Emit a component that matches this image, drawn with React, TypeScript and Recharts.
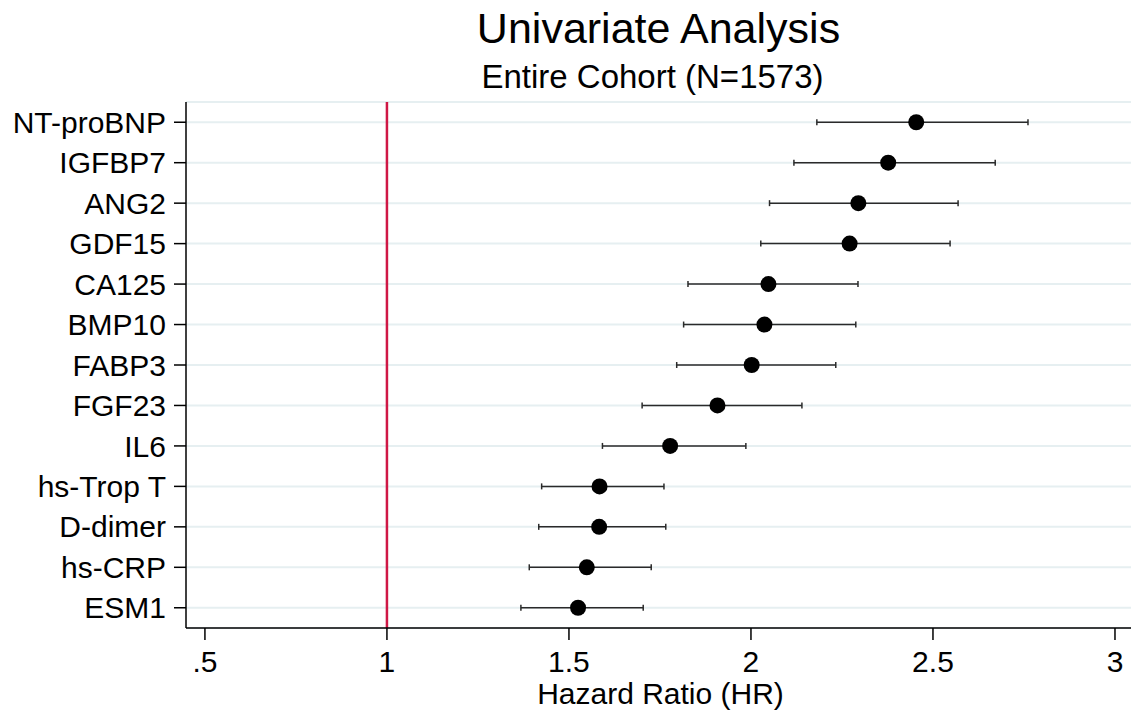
import React from 'react';
import {
  ScatterChart,
  Scatter,
  XAxis,
  YAxis,
  CartesianGrid,
  ReferenceLine,
  ErrorBar,
} from 'recharts';

/* Univariate hazard ratios with 95% CI */
const MARKERS = [
  'NT-proBNP', 'IGFBP7', 'ANG2', 'GDF15', 'CA125', 'BMP10', 'FABP3',
  'FGF23', 'IL6', 'hs-Trop T', 'D-dimer', 'hs-CRP', 'ESM1',
];
const HR = [2.454, 2.377, 2.295, 2.271, 2.048, 2.037, 2.002, 1.908, 1.778, 1.584, 1.583, 1.549, 1.525];
const CI_LOW = [2.181, 2.118, 2.051, 2.027, 1.827, 1.815, 1.796, 1.701, 1.592, 1.425, 1.417, 1.391, 1.368];
const CI_HIGH = [2.761, 2.671, 2.569, 2.547, 2.294, 2.288, 2.233, 2.14, 1.986, 1.761, 1.766, 1.726, 1.704];
const X_TICKS = [0.5, 1, 1.5, 2, 2.5, 3];

const data = MARKERS.map((name, i) => ({
  name,
  hr: HR[i],
  err: [HR[i] - CI_LOW[i], CI_HIGH[i] - HR[i]],
}));

const FONT = '"Liberation Sans", Arial, Helvetica, sans-serif';

const Dot = (props: any) => {
  const { cx, cy } = props;
  if (cx == null || cy == null) return null;
  return <circle cx={cx} cy={cy} r={8} fill="#000" />;
};

const App: React.FC = () => {
  return (
    <div style={styles.wrap}>
      <style>{'body{margin:0}'}</style>
      <div style={styles.title}>Univariate Analysis</div>
      <div style={styles.subtitle}>Entire Cohort (N=1573)</div>
      <ScatterChart
        width={1133}
        height={713}
        margin={{ top: 102, right: 2, bottom: 35, left: 0 }}
      >
        <CartesianGrid vertical={false} stroke="#e6eff1" strokeWidth={2} />
        <XAxis
          type="number"
          dataKey="hr"
          domain={[0.448, 3.044]}
          allowDataOverflow
          ticks={X_TICKS}
          tickFormatter={(v: number) => (v === 0.5 ? '.5' : String(v))}
          height={50}
          tickSize={12}
          tickMargin={11}
          stroke="#000"
          strokeWidth={1.5}
          tick={{ fill: '#000', fontSize: 30, fontFamily: FONT }}
        />
        <YAxis
          type="category"
          dataKey="name"
          width={186}
          reversed
          interval={0}
          tickSize={12}
          tickMargin={8}
          stroke="#000"
          strokeWidth={1.5}
          tick={{ fill: '#000', fontSize: 30, fontFamily: FONT }}
        />
        <ReferenceLine x={1} stroke="#cf1745" strokeWidth={2.5} />
        <Scatter data={data} shape={<Dot />} isAnimationActive={false}>
          <ErrorBar
            dataKey="err"
            direction="x"
            width={3}
            stroke="#2a2a2a"
            strokeWidth={1.5}
            isAnimationActive={false}
          />
        </Scatter>
      </ScatterChart>
      <div style={styles.axisTitle}>Hazard Ratio (HR)</div>
    </div>
  );
};

const styles: Record<string, React.CSSProperties> = {
  wrap: {
    position: 'relative',
    width: 1133,
    height: 713,
    background: '#fff',
    fontFamily: FONT,
    color: '#000',
  },
  title: {
    position: 'absolute',
    left: 186,
    width: 945,
    top: 6.6,
    textAlign: 'center',
    fontSize: 43,
    lineHeight: 1,
    whiteSpace: 'nowrap',
  },
  subtitle: {
    position: 'absolute',
    left: 180,
    width: 945,
    top: 60,
    textAlign: 'center',
    fontSize: 33,
    lineHeight: 1,
    whiteSpace: 'nowrap',
  },
  axisTitle: {
    position: 'absolute',
    left: 188,
    width: 945,
    top: 678.6,
    textAlign: 'center',
    fontSize: 30,
    lineHeight: 1,
    whiteSpace: 'nowrap',
  },
};

export default App;
